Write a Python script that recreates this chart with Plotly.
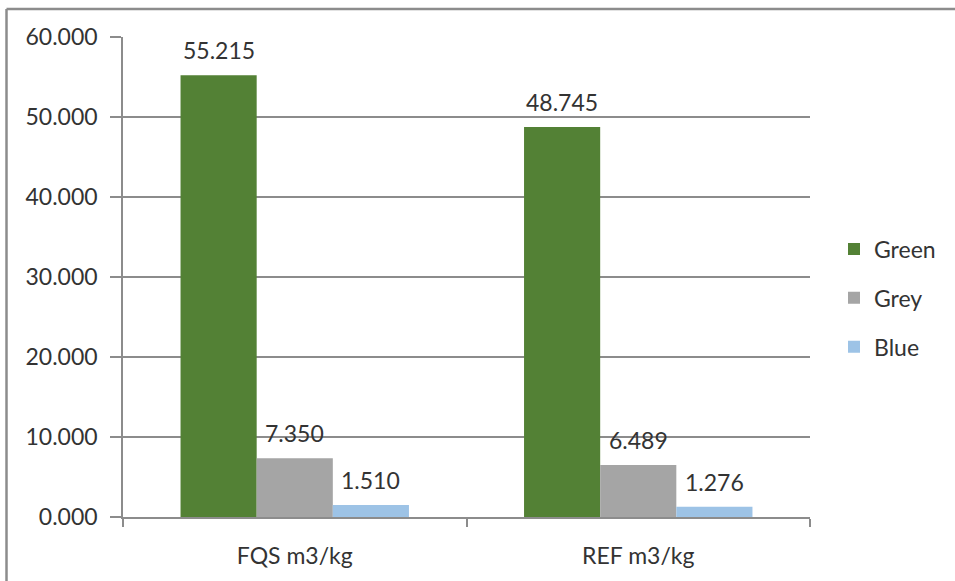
import plotly.graph_objects as go

categories = ["FQS m3/kg", "REF m3/kg"]
series_names = ["Green", "Grey", "Blue"]
green_vals = [55.215, 48.745]
grey_vals = [7.350, 6.489]
blue_vals = [1.510, 1.276]
y_ticks = [0, 10, 20, 30, 40, 50, 60]

colors = ["#538135", "#A5A5A5", "#9DC3E6"]
series_vals = [green_vals, grey_vals, blue_vals]

W, H = 955, 581
L, R, T, B = 123, 145, 37, 64
pw, ph = W - L - R, H - T - B
bargap = 0.335
font = "Lato, 'Open Sans', sans-serif"
txtcol = "#333333"
fs = 23

fig = go.Figure()
for i, (name, vals, col) in enumerate(zip(series_names, series_vals, colors)):
    fig.add_trace(go.Bar(
        x=categories, y=vals, name=name, marker_color=col,
        marker_line_width=0, legendgroup=name,
    ))

bar_px = pw / len(categories) * (1 - bargap) / len(series_names)
for i, vals in enumerate(series_vals):
    for c, v in zip(categories, vals):
        fig.add_annotation(
            x=c, y=v, xref="x", yref="y", text=f"{v:.3f}",
            showarrow=False, yanchor="bottom", xanchor="center",
            xshift=(i - (len(series_names) - 1) / 2) * bar_px, yshift=9,
            font=dict(family=font, size=fs, color=txtcol),
        )

fig.update_layout(
    width=W, height=H,
    margin=dict(l=L, r=R, t=T, b=B),
    paper_bgcolor="white", plot_bgcolor="white",
    barmode="group", bargap=bargap, bargroupgap=0,
    font=dict(family=font, size=fs, color=txtcol),
    showlegend=True,
    legend=dict(
        x=(834 - L) / pw, xanchor="left", y=(H - B - 298) / ph, yanchor="middle",
        traceorder="grouped", tracegroupgap=16,
        font=dict(family=font, size=fs, color=txtcol),
        bgcolor="rgba(0,0,0,0)",
    ),
    shapes=[
        dict(type="line", xref="paper", yref="paper",
             x0=(6.5 - L) / pw, x1=(W + 5 - L) / pw,
             y0=(H - B - 9) / ph, y1=(H - B - 9) / ph,
             line=dict(color="#8c8c8c", width=2.5)),
        dict(type="line", xref="paper", yref="paper",
             x0=(6.5 - L) / pw, x1=(6.5 - L) / pw,
             y0=(H - B - 9) / ph, y1=(H - B - H - 5) / ph,
             line=dict(color="#8c8c8c", width=2.5)),
    ],
)

fig.update_yaxes(
    range=[0, 60], tickvals=y_ticks, tickformat=".3f",
    showgrid=True, gridcolor="#8c8c8c", gridwidth=1.5,
    showline=True, linecolor="#8c8c8c", linewidth=1.5,
    ticks="outside", ticklen=11, tickcolor="#8c8c8c", tickwidth=1.5,
    ticklabelstandoff=8, zeroline=False,
)
fig.update_xaxes(
    showline=True, linecolor="#8c8c8c", linewidth=1.5,
    ticks="outside", tickson="boundaries", ticklen=8,
    tickcolor="#8c8c8c", tickwidth=1.5, ticklabelstandoff=18,
)

fig.write_html("out.html", config={"displayModeBar": False},
               post_script="document.body.style.margin='0';")
